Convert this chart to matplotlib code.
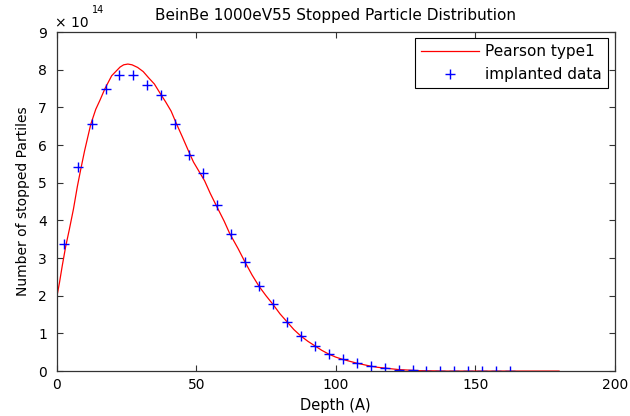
import numpy as np
import matplotlib
matplotlib.use('Agg')
import matplotlib.pyplot as plt

# implanted data (units of 1e14)
depth_pts = [2.5, 7.5, 12.5, 17.5, 22.5, 27.5, 32.5, 37.5, 42.5, 47.5, 52.5,
             57.5, 62.5, 67.5, 72.5, 77.5, 82.5, 87.5, 92.5, 97.5, 102.5,
             107.5, 112.5, 117.5, 122.5, 127.5, 132.5, 137.5, 142.5, 147.5,
             152.5, 157.5, 162.5]
counts_pts = [3.37, 5.41, 6.55, 7.48, 7.85, 7.85, 7.59, 7.32, 6.57, 5.73, 5.26,
              4.42, 3.65, 2.89, 2.25, 1.78, 1.31, 0.93, 0.67, 0.45, 0.31,
              0.21, 0.13, 0.08, 0.04, 0.02, 0.01, 0.0, 0.0, 0.0,
              0.0, 0.0, 0.0]

# Pearson type1 fit (units of 1e14)
depth_fit = [0, 1, 2, 3.2, 4.5, 6, 7.4, 8.6, 10, 12.2, 14, 15.5, 17.3, 19.7,
             22.7, 24, 25.5, 27, 29, 31, 33, 35, 37, 39, 41, 43, 45, 47, 49,
             51, 53, 55, 57, 60, 62, 65, 67.5, 70, 72.5, 75, 77.5, 80, 82.5,
             85, 87.5, 90, 92.5, 95, 97.5, 100, 102.5, 105, 107.5, 110, 112.5,
             115, 117.5, 120, 122.5, 125, 127.5, 130, 135, 140, 180]
counts_fit = [1.95, 2.35, 2.8, 3.3, 3.75, 4.3, 4.9, 5.35, 5.85, 6.55, 6.95,
              7.19, 7.5, 7.84, 8.07, 8.13, 8.15, 8.13, 8.06, 7.95, 7.78, 7.62,
              7.38, 7.15, 6.9, 6.55, 6.22, 5.88, 5.55, 5.3, 5.05, 4.72, 4.42,
              3.98, 3.65, 3.25, 2.89, 2.55, 2.25, 2.0, 1.77, 1.52, 1.31, 1.1,
              0.93, 0.79, 0.67, 0.55, 0.45, 0.37, 0.31, 0.26, 0.21, 0.17, 0.13,
              0.1, 0.08, 0.06, 0.04, 0.03, 0.02, 0.01, 0.005, 0.0, 0.0]

plt.rcParams['font.family'] = ['DejaVu Sans']

fig = plt.figure(figsize=(6.3, 4.16), dpi=100)
ax = fig.add_axes([0.09, 0.108, 0.886, 0.815])

ax.plot(depth_fit, counts_fit, color='red', lw=0.9, label='Pearson type1')
ax.plot(depth_pts, counts_pts, '+', color='blue', ms=7, mew=1.0,
        label='implanted data')

ax.set_xlim(0, 200)
ax.set_ylim(0, 9)
ax.set_xticks([0, 50, 100, 150, 200])
ax.set_yticks(range(10))

ax.tick_params(direction='in', top=True, right=True, labelsize=10,
               length=4, width=0.8, color='#333333')
ax.tick_params(axis='y', pad=7)
ax.tick_params(axis='x', pad=5)
for s in ax.spines.values():
    s.set_color('#333333')
    s.set_linewidth(0.9)

# exponent label like matlab
fig.text(55 / 630, 1 - 27 / 416, '× 10', fontsize=10, ha='left', va='baseline')
fig.text(92 / 630, 1 - 13 / 416, '14', fontsize=7, ha='left', va='baseline')

ax.set_title('BeinBe 1000eV55 Stopped Particle Distribution', fontsize=11, pad=9)
ax.set_xlabel('Depth (A)', fontsize=10.5, labelpad=4)
ax.set_ylabel('Number of stopped Partiles', fontsize=10, labelpad=6)

leg = ax.legend(loc='upper right', fontsize=11, fancybox=False,
                edgecolor='black', framealpha=1, borderpad=0.4,
                handlelength=3.8, handletextpad=0.4, labelspacing=0.5,
                borderaxespad=0, bbox_to_anchor=(0.988, 0.982))
leg.get_frame().set_linewidth(0.8)

fig.savefig('out.png', dpi=100)
